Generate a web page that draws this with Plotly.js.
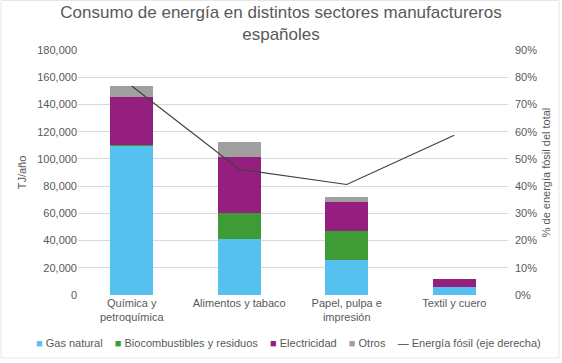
<!DOCTYPE html>
<html>
<head>
<meta charset="utf-8">
<script src="https://cdn.plot.ly/plotly-3.0.1.min.js"></script>
<style>html,body{margin:0;padding:0;background:#fff;}#chart{width:562px;height:363px;}</style>
</head>
<body>
<div id="chart"></div>
<script>
const categories = ["Química y<br>petroquímica", "Alimentos y tabaco", "Papel, pulpa e<br>impresión", "Textil y cuero"];
const gasNatural = [109500, 41000, 26000, 5800];
const biocombustibles = [600, 19500, 21000, 100];
const electricidad = [35300, 40700, 21600, 5800];
const otros = [8200, 11000, 3200, 400];
const energiaFosil = [76.8, 46.2, 40.6, 58.7];
const seriesNames = ["Gas natural", "Biocombustibles y residuos", "Electricidad", "Otros", "Energía fósil (eje derecha)"];
const seriesColors = ["#56C1EF", "#3E9B35", "#951F7F", "#A0A0A0", "#404040"];

const fam = "Liberation Sans, Arial, sans-serif";
const font = {family: fam, color: "#595959", size: 11};

const barSeries = [gasNatural, biocombustibles, electricidad, otros];
const traces = barSeries.map((vals, i) => ({
  type: "bar", name: seriesNames[i], x: categories, y: vals,
  marker: {color: seriesColors[i]}, width: 0.4, showlegend: false
}));
traces.push({type: "scatter", mode: "lines", name: seriesNames[4], x: categories, y: energiaFosil, yaxis: "y2",
  line: {color: seriesColors[4], width: 1.2}, showlegend: false});

// Legend built as real text from the series names/colours
const legendParts = seriesNames.map((n, i) => {
  const sym = i < 4 ? "■" : "—";
  return '<span style="color:' + seriesColors[i] + '">' + sym + '</span> ' + n;
});
const legendText = legendParts.join("&nbsp;&nbsp;&nbsp;&nbsp;");

const layout = {
  width: 562, height: 363,
  margin: {l: 78, r: 54, t: 50, b: 68},
  barmode: "stack",
  paper_bgcolor: "#fff", plot_bgcolor: "#fff",
  font: font,
  showlegend: false,
  title: {text: "Consumo de energía en distintos sectores manufactureros<br>españoles", font: {family: fam, size: 17, color: "#595959"}, x: 0.5, xanchor: "center", y: 0.95, yanchor: "top"},
  xaxis: {tickfont: font, showgrid: false, zeroline: false, showline: false, ticks: "", automargin: false},
  yaxis: {range: [0, 180000], dtick: 20000, tickformat: ",d", gridcolor: "#D9D9D9", gridwidth: 1, zeroline: false, tickfont: font, ticks: "", automargin: false,
    title: {text: "TJ/año", font: {family: fam, size: 11, color: "#595959"}, standoff: 8}},
  yaxis2: {overlaying: "y", side: "right", range: [0, 90], dtick: 10, ticksuffix: "%", showgrid: false, zeroline: false, tickfont: font, ticks: "", automargin: false,
    ticklabelstandoff: 6,
    title: {text: "% de energía fósil del total", font: {family: fam, size: 11, color: "#595959"}, standoff: 6}},
  annotations: [{xref: "paper", yref: "paper", x: (288.5 - 78) / 430, y: -(343 - 295) / 245, xanchor: "center", yanchor: "middle",
    text: legendText, showarrow: false, font: {family: fam, size: 11, color: "#595959"}}],
  shapes: [{type: "rect", xref: "paper", yref: "paper", x0: -77/430, x1: (430+51)/430, y0: -63/245, y1: 294.5/245,
    line: {color: "#E6E6E6", width: 1}, fillcolor: "rgba(0,0,0,0)", layer: "below"}]
};

Plotly.newPlot("chart", traces, layout, {displayModeBar: false, staticPlot: true});
</script>
</body>
</html>
